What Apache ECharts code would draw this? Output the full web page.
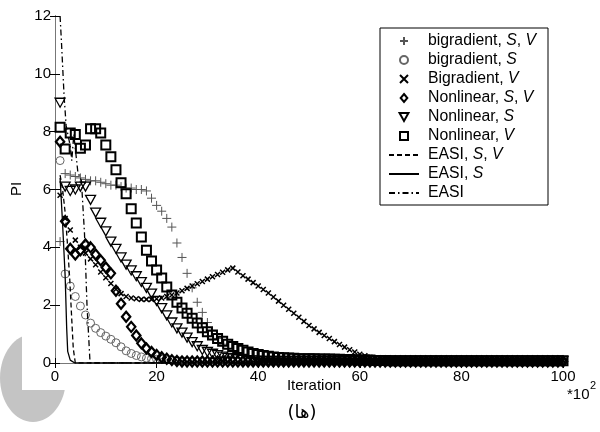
<!DOCTYPE html>
<html>
<head>
<meta charset="utf-8">
<script src="https://cdn.jsdelivr.net/npm/echarts@6.0.0/dist/echarts.min.js"></script>
<style>
  html, body { margin: 0; padding: 0; background: #fff; }
  #chart { width: 600px; height: 432px; }
</style>
</head>
<body>
<div id="chart"></div>
<script>
// x in units of 10^2 iterations, one marker per 100 iterations
const iterations = Array.from({ length: 100 }, (_, i) => i + 1);

const bigradSV = [
  4.2, 6.55, 6.5, 6.45, 6.4, 6.35, 6.3, 6.3, 6.25, 6.2,
  6.15, 6.15, 6.1, 6.05, 6.05, 6.0, 6.0, 5.95, 5.7, 5.45,
  5.25, 5.0, 4.7, 4.15, 3.65, 3.1, 2.6, 2.1, 1.75, 1.4,
  1.1, 0.85, 0.65, 0.5, 0.4, 0.32, 0.26, 0.22, 0.19, 0.17,
  0.15, 0.14, 0.13, 0.12, 0.11, 0.1, 0.1, 0.09, 0.09, 0.08,
  0.08, 0.08, 0.08, 0.08, 0.08, 0.08, 0.08, 0.08, 0.08, 0.08,
  0.08, 0.08, 0.08, 0.08, 0.08, 0.08, 0.08, 0.08, 0.08, 0.08,
  0.08, 0.08, 0.08, 0.08, 0.08, 0.08, 0.08, 0.08, 0.08, 0.08,
  0.08, 0.08, 0.08, 0.08, 0.08, 0.08, 0.08, 0.08, 0.08, 0.08,
  0.08, 0.08, 0.08, 0.08, 0.08, 0.08, 0.08, 0.08, 0.08, 0.08
];
const bigradS = [
  7.0, 3.08, 2.66, 2.3, 1.97, 1.66, 1.38, 1.2, 1.05, 0.93,
  0.82, 0.7, 0.56, 0.42, 0.33, 0.26, 0.21, 0.17, 0.15, 0.13,
  0.12, 0.11, 0.1, 0.09, 0.08, 0.07, 0.06, 0.06, 0.06, 0.06,
  0.06, 0.06, 0.06, 0.06, 0.06, 0.06, 0.06, 0.06, 0.06, 0.06,
  0.06, 0.06, 0.06, 0.06, 0.06, 0.06, 0.06, 0.06, 0.06, 0.06,
  0.06, 0.06, 0.06, 0.06, 0.06, 0.06, 0.06, 0.06, 0.06, 0.06,
  0.06, 0.06, 0.06, 0.06, 0.06, 0.06, 0.06, 0.06, 0.06, 0.06,
  0.06, 0.06, 0.06, 0.06, 0.06, 0.06, 0.06, 0.06, 0.06, 0.06,
  0.06, 0.06, 0.06, 0.06, 0.06, 0.06, 0.06, 0.06, 0.06, 0.06,
  0.06, 0.06, 0.06, 0.06, 0.06, 0.06, 0.06, 0.06, 0.06, 0.06
];
const bigradV = [
  5.8, 5.0, 4.6, 4.25, 4.0, 3.8, 3.6, 3.4, 3.15, 2.95,
  2.75, 2.55, 2.4, 2.3, 2.25, 2.22, 2.2, 2.2, 2.2, 2.22,
  2.25, 2.3, 2.35, 2.42, 2.5, 2.58, 2.66, 2.74, 2.82, 2.9,
  2.98, 3.06, 3.14, 3.22, 3.28, 3.15, 3.02, 2.9, 2.78, 2.66,
  2.54, 2.42, 2.28, 2.14, 2.0, 1.86, 1.72, 1.58, 1.44, 1.3,
  1.18, 1.06, 0.95, 0.85, 0.74, 0.64, 0.55, 0.46, 0.38, 0.3,
  0.25, 0.2, 0.17, 0.15, 0.13, 0.12, 0.11, 0.1, 0.09, 0.09,
  0.09, 0.09, 0.09, 0.09, 0.09, 0.09, 0.09, 0.09, 0.09, 0.09,
  0.09, 0.09, 0.09, 0.09, 0.09, 0.09, 0.09, 0.09, 0.09, 0.09,
  0.09, 0.09, 0.09, 0.09, 0.09, 0.09, 0.09, 0.09, 0.09, 0.09
];
const nonlinSV = [
  7.65, 4.9, 3.95, 3.75, 3.9, 4.1, 4.0, 3.75, 3.55, 3.3,
  3.1, 2.5, 2.05, 1.6, 1.25, 0.95, 0.68, 0.5, 0.38, 0.28,
  0.2, 0.15, 0.1, 0.07, 0.05, 0.05, 0.05, 0.05, 0.05, 0.05,
  0.05, 0.05, 0.05, 0.05, 0.05, 0.05, 0.05, 0.05, 0.05, 0.05,
  0.05, 0.05, 0.05, 0.05, 0.05, 0.05, 0.05, 0.05, 0.05, 0.05,
  0.05, 0.05, 0.05, 0.05, 0.05, 0.05, 0.05, 0.05, 0.05, 0.05,
  0.05, 0.05, 0.05, 0.05, 0.05, 0.05, 0.05, 0.05, 0.05, 0.05,
  0.05, 0.05, 0.05, 0.05, 0.05, 0.05, 0.05, 0.05, 0.05, 0.05,
  0.05, 0.05, 0.05, 0.05, 0.05, 0.05, 0.05, 0.05, 0.05, 0.05,
  0.05, 0.05, 0.05, 0.05, 0.05, 0.05, 0.05, 0.05, 0.05, 0.05
];
const nonlinS = [
  9.0, 6.1, 5.95, 6.0, 6.1, 6.1, 5.64, 5.2, 4.85, 4.55,
  4.2, 3.95, 3.65, 3.4, 3.2, 3.0, 2.8, 2.6, 2.4, 2.15,
  1.9, 1.65, 1.4, 1.2, 1.05, 0.88, 0.72, 0.58, 0.45, 0.38,
  0.32, 0.27, 0.22, 0.18, 0.15, 0.13, 0.11, 0.1, 0.09, 0.08,
  0.07, 0.07, 0.07, 0.07, 0.07, 0.07, 0.07, 0.07, 0.07, 0.07,
  0.07, 0.07, 0.07, 0.07, 0.07, 0.07, 0.07, 0.07, 0.07, 0.07,
  0.07, 0.07, 0.07, 0.07, 0.07, 0.07, 0.07, 0.07, 0.07, 0.07,
  0.07, 0.07, 0.07, 0.07, 0.07, 0.07, 0.07, 0.07, 0.07, 0.07,
  0.07, 0.07, 0.07, 0.07, 0.07, 0.07, 0.07, 0.07, 0.07, 0.07,
  0.07, 0.07, 0.07, 0.07, 0.07, 0.07, 0.07, 0.07, 0.07, 0.07
];
const nonlinV = [
  8.15, 7.4, 7.95, 7.9, 7.43, 7.54, 8.1, 8.1, 7.95, 7.54,
  7.13, 6.68, 6.23, 5.85, 5.33, 4.84, 4.36, 3.9, 3.53, 3.22,
  2.94, 2.63, 2.35, 2.1, 1.9, 1.72, 1.55, 1.38, 1.22, 1.08,
  0.97, 0.85, 0.75, 0.65, 0.57, 0.5, 0.44, 0.38, 0.33, 0.29,
  0.26, 0.23, 0.21, 0.19, 0.18, 0.17, 0.16, 0.15, 0.15, 0.15,
  0.15, 0.14, 0.14, 0.14, 0.13, 0.13, 0.12, 0.12, 0.11, 0.1,
  0.1, 0.1, 0.09, 0.09, 0.09, 0.08, 0.08, 0.08, 0.08, 0.08,
  0.08, 0.08, 0.08, 0.08, 0.08, 0.08, 0.08, 0.08, 0.08, 0.08,
  0.08, 0.08, 0.08, 0.08, 0.08, 0.08, 0.08, 0.08, 0.08, 0.08,
  0.08, 0.08, 0.08, 0.08, 0.08, 0.08, 0.08, 0.08, 0.08, 0.08
];

// EASI curves (lines, no markers)
const easiSVx = [1, 1.5, 2, 2.5, 2.9, 3.3, 3.6, 4.0, 100];
const easiSVy = [6.5, 6.0, 5.2, 4.0, 2.9, 1.5, 0.5, 0, 0];
const easiSx = [1, 1.5, 2, 2.3, 2.5, 3, 3.9, 100];
const easiSy = [6.4, 4.8, 3.0, 1.2, 0.4, 0.1, 0, 0];
const easiX = [1, 1.3, 1.8, 2.2, 3.0, 3.3, 3.7, 4.0, 4.5, 5.2, 5.8, 6.3, 6.9, 100];
const easiY = [12, 11, 9.2, 8.2, 7.5, 7.0, 7.9, 7.95, 6.6, 6.3, 4.5, 2.0, 0, 0];

const xTicks = [0, 20, 40, 60, 80, 100];
const yTicks = [0, 2, 4, 6, 8, 10, 12];

const FONT = 'Liberation Sans, Arial, sans-serif';

// marker shapes as paths so the legend keeps them square
const SYM = {
  plus: 'path://M5,0L5,10M0,5L10,5',
  cross: 'path://M0,0L10,10M10,0L0,10',
  circle: 'path://M0,5A5,5,0,1,0,10,5A5,5,0,1,0,0,5Z',
  diamond: 'path://M5,0L10,6L5,12L0,6Z',
  triDown: 'path://M0,0L10,0L5,9Z',
  square: 'path://M0,0L10,0L10,10L0,10Z'
};

function markerSeries(name, ys, symbol, size, stroke, width) {
  return {
    name: name,
    type: 'scatter',
    symbol: symbol,
    symbolSize: size,
    symbolKeepAspect: true,
    data: iterations.map((x, i) => [x, ys[i]]),
    itemStyle: { color: 'rgba(0,0,0,0)', borderColor: stroke, borderWidth: width, opacity: 1 },
    silent: true,
    z: 3
  };
}

function lineSeries(name, xs, ys, dash) {
  return {
    name: name,
    type: 'line',
    symbol: 'none',
    data: xs.map((x, i) => [x, ys[i]]),
    lineStyle: { color: '#000', width: 1.3, type: dash },
    itemStyle: { color: '#000' },
    silent: true,
    z: 4
  };
}

const chart = echarts.init(document.getElementById('chart'), null, { renderer: 'canvas' });

const axisCommon = {
  type: 'value',
  splitLine: { show: false },
  axisTick: { inside: true, length: 5, lineStyle: { color: '#000' } }
};

const names = ['bigradient, S, V', 'bigradient, S', 'Bigradient, V', 'Nonlinear, S, V',
  'Nonlinear, S', 'Nonlinear, V', 'EASI, S, V', 'EASI, S', 'EASI'];

chart.setOption({
  animation: false,
  backgroundColor: '#fff',
  grid: { left: 55, right: 37, top: 16, bottom: 69 },
  xAxis: [
    Object.assign({}, axisCommon, {
      position: 'bottom', min: xTicks[0], max: xTicks[xTicks.length - 1], interval: 20,
      axisLine: { lineStyle: { color: '#000', width: 1 } },
      axisLabel: { fontFamily: FONT, fontSize: 15, color: '#000', margin: 6 }
    }),
    Object.assign({}, axisCommon, {
      position: 'top', min: 0, max: 100, interval: 20,
      axisLine: { lineStyle: { color: '#777', width: 1 } },
      axisLabel: { show: false }
    })
  ],
  yAxis: [
    Object.assign({}, axisCommon, {
      position: 'left', min: yTicks[0], max: yTicks[yTicks.length - 1], interval: 2,
      axisLine: { show: true, lineStyle: { color: '#000', width: 1 } },
      axisLabel: { fontFamily: FONT, fontSize: 15, color: '#000', margin: 4 }
    }),
    Object.assign({}, axisCommon, {
      position: 'right', min: 0, max: 12, interval: 2,
      axisLine: { show: true, lineStyle: { color: '#777', width: 1 } },
      axisLabel: { show: false }
    })
  ],
  legend: {
    orient: 'vertical',
    left: 380,
    top: 28,
    padding: [5, 12, 4, 8],
    itemWidth: 30,
    itemHeight: 8,
    itemGap: 3,
    borderColor: '#000',
    borderWidth: 1,
    backgroundColor: '#fff',
    textStyle: {
      fontFamily: FONT, fontSize: 15.8, color: '#000', padding: [0, 0, 0, 4],
      rich: { i: { fontFamily: FONT, fontSize: 15.8, fontStyle: 'italic', color: '#000' } }
    },
    formatter: name => name.replace(/\b([SV])\b/g, '{i|$1}'),
    data: names.map((n, i) => i < 6 ? n : { name: n, itemStyle: { color: 'rgba(0,0,0,0)', borderWidth: 0 } })
  },
  graphic: [
    { type: 'ellipse', shape: { cx: 33, cy: 378, rx: 33, ry: 44 }, style: { fill: '#c4c4c4' }, z: -20, silent: true },
    { type: 'rect', shape: { x: 22, y: 0, width: 578, height: 390 }, style: { fill: '#fff' }, z: -10, silent: true },
    { type: 'text', x: 17, y: 189, rotation: Math.PI / 2,
      style: { text: 'PI', font: '15px ' + FONT, fill: '#000', align: 'center', verticalAlign: 'middle' } },
    { type: 'text', x: 314, y: 386,
      style: { text: 'Iteration', font: '15px ' + FONT, fill: '#000', align: 'center', verticalAlign: 'middle' } },
    { type: 'text', x: 567, y: 395,
      style: { text: '*10', font: '15px ' + FONT, fill: '#000', align: 'left', verticalAlign: 'middle' } },
    { type: 'text', x: 590, y: 386,
      style: { text: '2', font: '11px ' + FONT, fill: '#000', align: 'left', verticalAlign: 'middle' } },
    { type: 'text', x: 302, y: 413,
      style: { text: '(ها)', font: '18px DejaVu Sans, Noto Sans, sans-serif', fill: '#000', align: 'center', verticalAlign: 'middle' } }
  ],
  series: [
    markerSeries(names[0], bigradSV, SYM.plus, 9, '#555', 1),
    markerSeries(names[1], bigradS, SYM.circle, 8, '#666', 1),
    markerSeries(names[2], bigradV, SYM.cross, 5, '#000', 1.5),
    markerSeries(names[3], nonlinSV, SYM.diamond, 10, '#000', 2.2),
    markerSeries(names[4], nonlinS, SYM.triDown, 10, '#000', 1.3),
    markerSeries(names[5], nonlinV, SYM.square, 9, '#000', 2),
    lineSeries(names[6], easiSVx, easiSVy, [5, 3]),
    lineSeries(names[7], easiSx, easiSy, 'solid'),
    lineSeries(names[8], easiX, easiY, [6, 3, 1.5, 3])
  ]
});
</script>
</body>
</html>
